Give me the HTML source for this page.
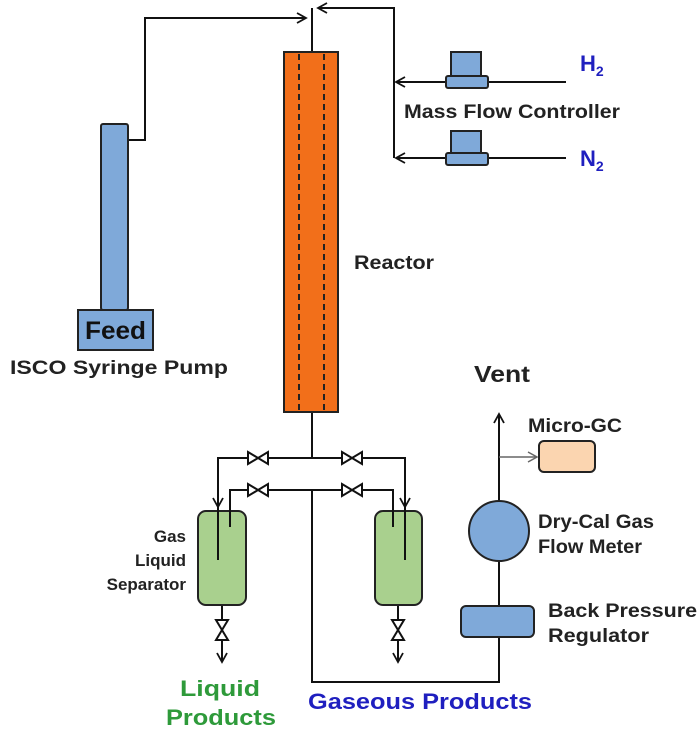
<!DOCTYPE html>
<html><head><style>body{margin:0;background:#fff}svg{display:block}</style></head><body>
<svg width="700" height="730" viewBox="0 0 700 730" xmlns="http://www.w3.org/2000/svg" font-family="Liberation Sans, Arial, sans-serif" font-weight="bold">
<defs>
<marker id="a" markerWidth="12" markerHeight="12" refX="10" refY="6" orient="auto" markerUnits="userSpaceOnUse"><path d="M1,1 L10,6 L1,11" fill="none" stroke="#111" stroke-width="1.8"/></marker>
<marker id="g" markerWidth="12" markerHeight="12" refX="10" refY="6" orient="auto" markerUnits="userSpaceOnUse"><path d="M1,1 L10,6 L1,11" fill="none" stroke="#666" stroke-width="1.5"/></marker>
</defs>
<g stroke="#111" stroke-width="2" fill="none">
<polyline points="128,140 145,140 145,18 306,18" marker-end="url(#a)"/>
<line x1="312" y1="52" x2="312" y2="8"/>
<polyline points="394,158 394,8 318,8" marker-end="url(#a)"/>
<line x1="566" y1="82" x2="396" y2="82" marker-end="url(#a)"/>
<line x1="566" y1="158" x2="396" y2="158" marker-end="url(#a)"/>
<line x1="312" y1="412" x2="312" y2="458"/>
<polyline points="218,507 218,458 405,458 405,507" marker-end="url(#a)"/>
<polyline points="218,470 218,507" marker-end="url(#a)"/>
<polyline points="230,527 230,490 393,490 393,527"/>
<polyline points="312,490 312,682 499,682 499,637"/>
<line x1="499" y1="606" x2="499" y2="561"/>
<line x1="499" y1="501" x2="499" y2="414" marker-end="url(#a)"/>
<line x1="222" y1="605" x2="222" y2="662" marker-end="url(#a)"/>
<line x1="398" y1="605" x2="398" y2="662" marker-end="url(#a)"/>
</g>
<line x1="499" y1="457" x2="537" y2="457" stroke="#666" stroke-width="1.5" marker-end="url(#g)"/>
<g fill="#fff" stroke="#111" stroke-width="2">
<path d="M248,452 L268,464 L268,452 L248,464 Z"/>
<path d="M342,452 L362,464 L362,452 L342,464 Z"/>
<path d="M248,484 L268,496 L268,484 L248,496 Z"/>
<path d="M342,484 L362,496 L362,484 L342,496 Z"/>
<path d="M216,620 L228,640 L216,640 L228,620 Z"/>
<path d="M392,620 L404,640 L392,640 L404,620 Z"/>
</g>
<rect x="284" y="52" width="54" height="360" fill="#f26f1a" stroke="#222" stroke-width="2"/>
<line x1="299" y1="54" x2="299" y2="410" stroke="#222" stroke-width="2" stroke-dasharray="6,4"/>
<line x1="324" y1="54" x2="324" y2="410" stroke="#222" stroke-width="2" stroke-dasharray="6,4"/>
<rect x="101" y="124" width="27" height="186" rx="2" fill="#7fa9d9" stroke="#222" stroke-width="2"/>
<rect x="78" y="310" width="75" height="40" fill="#7fa9d9" stroke="#222" stroke-width="2"/>
<g fill="#7fa9d9" stroke="#222" stroke-width="2">
<rect x="451" y="52" width="30" height="26"/>
<rect x="446" y="76" width="42" height="12" rx="2"/>
<rect x="451" y="131" width="30" height="24"/>
<rect x="446" y="153" width="42" height="12" rx="2"/>
<rect x="198" y="511" width="48" height="94" rx="8" fill="#a9d08e"/>
<rect x="375" y="511" width="47" height="94" rx="8" fill="#a9d08e"/>
<circle cx="499" cy="531" r="30"/>
<rect x="461" y="606" width="73" height="31" rx="5"/>
<rect x="539" y="441" width="56" height="31" rx="5" fill="#fbd5b0"/>
</g>
<g stroke="#111" stroke-width="2">
<line x1="218" y1="505" x2="218" y2="560"/>
<line x1="230" y1="505" x2="230" y2="527"/>
<line x1="405" y1="505" x2="405" y2="560"/>
<line x1="393" y1="505" x2="393" y2="527"/>
</g>
<g fill="#222" font-size="19">
<text x="85" y="339" font-size="25" fill="#111" textLength="61" lengthAdjust="spacingAndGlyphs">Feed</text>
<text x="10" y="374" textLength="218" lengthAdjust="spacingAndGlyphs">ISCO Syringe Pump</text>
<text x="354" y="269" textLength="80" lengthAdjust="spacingAndGlyphs">Reactor</text>
<text x="404" y="118" textLength="216" lengthAdjust="spacingAndGlyphs">Mass Flow Controller</text>
<g font-size="17" text-anchor="end">
<text x="186" y="542">Gas</text>
<text x="186" y="566">Liquid</text>
<text x="186" y="590">Separator</text>
</g>
<text x="474" y="382" font-size="23" textLength="56" lengthAdjust="spacingAndGlyphs">Vent</text>
<text x="528" y="432" textLength="94" lengthAdjust="spacingAndGlyphs">Micro-GC</text>
<text x="538" y="528" textLength="116" lengthAdjust="spacingAndGlyphs">Dry-Cal Gas</text>
<text x="538" y="553" textLength="104" lengthAdjust="spacingAndGlyphs">Flow Meter</text>
<text x="548" y="617" textLength="149" lengthAdjust="spacingAndGlyphs">Back Pressure</text>
<text x="548" y="642" textLength="101" lengthAdjust="spacingAndGlyphs">Regulator</text>
</g>
<g fill="#1f1fbf" font-size="22">
<text x="580" y="71">H<tspan font-size="14" dy="5">2</tspan></text>
<text x="580" y="166">N<tspan font-size="14" dy="5">2</tspan></text>
<text x="308" y="709" textLength="224" lengthAdjust="spacingAndGlyphs">Gaseous Products</text>
</g>
<g fill="#2e9a3a" font-size="22">
<text x="180" y="696" textLength="80" lengthAdjust="spacingAndGlyphs">Liquid</text>
<text x="166" y="725" textLength="110" lengthAdjust="spacingAndGlyphs">Products</text>
</g>
</svg>
</body></html>
